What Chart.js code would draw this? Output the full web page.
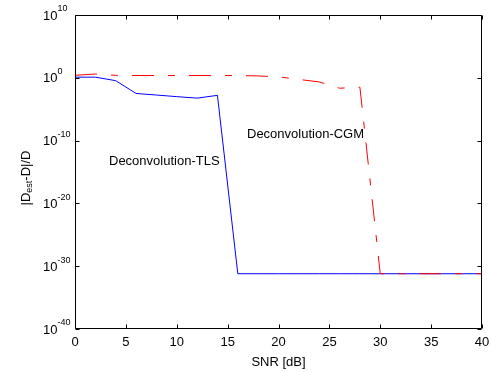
<!DOCTYPE html>
<html>
<head>
<meta charset="utf-8">
<script src="https://cdn.jsdelivr.net/npm/chart.js@4/dist/chart.umd.min.js"></script>
<style>
  html, body { margin: 0; padding: 0; background: #fff; }
  canvas { display: block; }
</style>
</head>
<body>
<canvas id="chart" width="491" height="372"></canvas>
<script>
// SNR axis (dB) and the relative error of the two deconvolution methods
var snr = [0, 2, 4, 6, 8, 10, 12, 14, 16, 18, 20, 22, 24, 26, 28, 30, 32, 34, 36, 38, 40];
var errCGM = [2.5, 4, 2.5, 2.3, 2.3, 2.3, 2.3, 2.3, 2.3, 2.0, 1.4, 0.55, 0.22, 0.022, 0.032,
              6.3e-32, 6.3e-32, 6.3e-32, 6.3e-32, 6.3e-32, 6.3e-32];
var errTLS = [1.26, 1.26, 0.35, 3.2e-3, 1.8e-3, 1.0e-3, 5.8e-4, 1.6e-3, 6.3e-32, 6.3e-32, 6.3e-32,
              6.3e-32, 6.3e-32, 6.3e-32, 6.3e-32, 6.3e-32, 6.3e-32, 6.3e-32, 6.3e-32, 6.3e-32, 6.3e-32];

var xTicks = [0, 5, 10, 15, 20, 25, 30, 35, 40];
var yTickExp = [10, 0, -10, -20, -30, -40];
var labelCGM = 'Deconvolution-CGM';
var labelTLS = 'Deconvolution-TLS';

var FONT = '"Liberation Sans", Arial, Helvetica, sans-serif';

function toPoints(ys) {
    return snr.map(function(x, i) { return { x: x, y: ys[i] }; });
}

// draws the matlab style box, inside ticks and all the text
var axesPlugin = {
    id: 'matlabAxes',
    afterDatasetsDraw: function(chart) {
        var ctx = chart.ctx;
        var a = chart.chartArea;
        var xs = chart.scales.x, ys = chart.scales.y;
        var L = Math.round(a.left) + 0.5, R = Math.round(a.right) - 0.5;
        var T = Math.round(a.top) + 0.5, B = Math.round(a.bottom) - 0.5;
        var tl = 4;

        ctx.save();
        ctx.strokeStyle = '#000';
        ctx.lineWidth = 1;
        ctx.beginPath();
        ctx.rect(L, T, R - L, B - T);

        xTicks.forEach(function(v) {
            var px = Math.round(xs.getPixelForValue(v)) + 0.5;
            ctx.moveTo(px, B); ctx.lineTo(px, B - tl);
            ctx.moveTo(px, T); ctx.lineTo(px, T + tl);
        });
        yTickExp.forEach(function(e) {
            var py = Math.round(ys.getPixelForValue(Math.pow(10, e))) + 0.5;
            ctx.moveTo(L, py); ctx.lineTo(L + tl, py);
            ctx.moveTo(R, py); ctx.lineTo(R - tl, py);
        });
        ctx.stroke();

        ctx.fillStyle = '#000';
        // x tick labels
        ctx.font = '13px ' + FONT;
        ctx.textAlign = 'center';
        ctx.textBaseline = 'middle';
        xTicks.forEach(function(v) {
            ctx.fillText(String(v), xs.getPixelForValue(v), B + 14);
        });

        // y tick labels 10^e
        yTickExp.forEach(function(e) {
            var py = ys.getPixelForValue(Math.pow(10, e));
            ctx.font = '13px ' + FONT;
            ctx.textAlign = 'left';
            ctx.textBaseline = 'middle';
            ctx.fillText('10', 43, py + 1);
            var w = ctx.measureText('10').width;
            ctx.font = '9px ' + FONT;
            ctx.fillText(String(e), 43 + w, py - 6);
        });

        // x axis title
        ctx.font = '13px ' + FONT;
        ctx.textAlign = 'center';
        ctx.textBaseline = 'middle';
        ctx.fillText('SNR [dB]', (a.left + a.right) / 2, 362);

        // y axis title |D_est-D|/D, rotated
        ctx.save();
        ctx.translate(26, 178);
        ctx.rotate(-Math.PI / 2);
        var parts = [['|D', 13, 0], ['est', 9, 4], ['-D|/D', 13, 0]];
        var total = 0;
        parts.forEach(function(p) {
            ctx.font = p[1] + 'px ' + FONT;
            total += ctx.measureText(p[0]).width;
        });
        var x0 = -total / 2;
        ctx.textAlign = 'left';
        parts.forEach(function(p) {
            ctx.font = p[1] + 'px ' + FONT;
            ctx.fillText(p[0], x0, p[2]);
            x0 += ctx.measureText(p[0]).width;
        });
        ctx.restore();

        // curve annotations
        ctx.font = '13px ' + FONT;
        ctx.textAlign = 'left';
        ctx.fillText(labelCGM, 247, 134);
        ctx.fillText(labelTLS, 109, 161);
        ctx.restore();
    }
};

var ctx = document.getElementById('chart').getContext('2d');
var chart = new Chart(ctx, {
    type: 'line',
    data: {
        datasets: [{
            label: labelCGM,
            data: toPoints(errCGM),
            borderColor: '#ff0000',
            borderWidth: 1,
            borderDash: [22, 14, 7, 14],
            pointRadius: 0,
            fill: false,
            tension: 0
        }, {
            label: labelTLS,
            data: toPoints(errTLS),
            borderColor: '#0000ff',
            borderWidth: 1,
            pointRadius: 0,
            fill: false,
            tension: 0
        }]
    },
    options: {
        responsive: false,
        devicePixelRatio: 1,
        animation: false,
        layout: { padding: { left: 75, top: 15, right: 9, bottom: 43 } },
        plugins: { legend: { display: false }, tooltip: { enabled: false } },
        scales: {
            x: { type: 'linear', min: 0, max: 40, display: false },
            y: {
                type: 'logarithmic', min: 1e-40, max: 1e10, display: false,
                afterBuildTicks: function(scale) {
                    scale.ticks = yTickExp.map(function(e) { return { value: Math.pow(10, e) }; });
                }
            }
        }
    },
    plugins: [axesPlugin]
});
</script>
</body>
</html>
